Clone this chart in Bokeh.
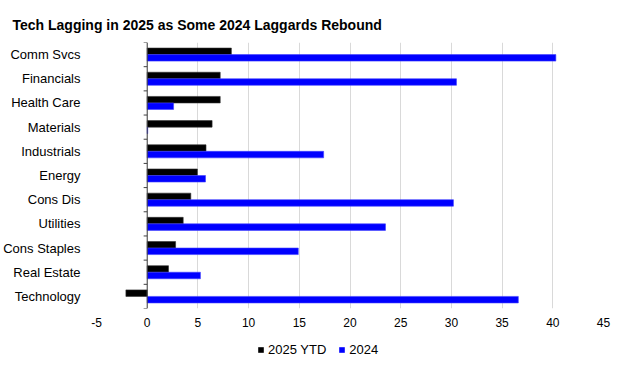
from bokeh.plotting import figure
from bokeh.layouts import column
from bokeh.models import FixedTicker, Span, Legend, LegendItem, ColumnDataSource
from bokeh.embed import file_html
from bokeh.resources import INLINE

categories = ["Comm Svcs", "Financials", "Health Care", "Materials", "Industrials",
              "Energy", "Cons Dis", "Utilities", "Cons Staples", "Real Estate", "Technology"]
ytd_2025 = [8.3, 7.2, 7.2, 6.4, 5.8, 4.95, 4.3, 3.55, 2.8, 2.1, -2.1]
full_2024 = [40.3, 30.5, 2.6, 0.05, 17.4, 5.75, 30.2, 23.5, 14.9, 5.25, 36.6]
x_ticks = [-5, 0, 5, 10, 15, 20, 25, 30, 35, 40, 45]
series_names = ["2025 YTD", "2024"]
series_colors = ["#000000", "#0000FF"]

FONT = "Liberation Sans"
n = len(categories)
ypos = [n - 1 - i for i in range(n)]
bar_h = 0.27
off = 0.135

src = ColumnDataSource(dict(
    cat=categories,
    y1=[y + off for y in ypos],
    y2=[y - off for y in ypos],
    v1=ytd_2025,
    v2=full_2024,
))

p = figure(frame_width=507, frame_height=266, output_backend="svg", toolbar_location=None,
           x_range=(-5, 45), y_range=(-0.5, n - 0.5),
           min_border_left=91, min_border_right=14, min_border_top=42, min_border_bottom=27)
p.outline_line_color = None
p.background_fill_color = "white"
p.border_fill_color = "white"

p.title.text = "Tech Lagging in 2025 as Some 2024 Laggards Rebound"
p.title.text_font = FONT
p.title.text_font_size = "14px"
p.title.text_font_style = "bold"
p.title.text_color = "#000000"
p.title.align = "left"
p.title.offset = -84
p.title.standoff = 20

r1 = p.hbar(y="y1", right="v1", left=0, height=bar_h, source=src,
            fill_color=series_colors[0], line_color="#303030", line_width=0.6)
r2 = p.hbar(y="y2", right="v2", left=0, height=bar_h, source=src,
            fill_color=series_colors[1], line_color="#4040FF", line_width=0.6)

p.add_layout(Span(location=0, dimension="height", line_color="#404040", line_width=1))
bounds = [y + 0.5 for y in ypos] + [-0.5]
p.segment(x0=[-0.35] * len(bounds), x1=[0] * len(bounds), y0=bounds, y1=bounds,
          line_color="#404040", line_width=1)

p.xaxis.ticker = FixedTicker(ticks=x_ticks)
p.xaxis.major_label_overrides = {t: str(t) for t in x_ticks}
p.xaxis.axis_line_color = None
p.xaxis.major_tick_line_color = None
p.xaxis.minor_tick_line_color = None
p.xaxis.major_label_text_font = FONT
p.xaxis.major_label_text_font_size = "12px"
p.xaxis.major_label_text_color = "#000000"
p.xaxis.major_label_standoff = 3

p.yaxis.ticker = FixedTicker(ticks=ypos)
p.yaxis.major_label_overrides = {y: c for y, c in zip(ypos, categories)}
p.yaxis.axis_line_color = None
p.yaxis.major_tick_line_color = None
p.yaxis.minor_tick_line_color = None
p.yaxis.major_label_text_font = FONT
p.yaxis.major_label_text_font_size = "13px"
p.yaxis.major_label_text_color = "#000000"
p.yaxis.major_label_standoff = 10

p.xgrid.ticker = FixedTicker(ticks=x_ticks)
p.xgrid.grid_line_color = "#d9d9d9"
p.ygrid.grid_line_color = None

# separate strip holding the legend (dummy zero-size bars give the legend its swatches)
lf = figure(frame_width=507, frame_height=30, output_backend="svg", toolbar_location=None,
            x_range=(0, 1), y_range=(0, 1), min_border_left=91, min_border_right=14,
            min_border_top=0, min_border_bottom=0)
lf.axis.visible = False
lf.grid.grid_line_color = None
lf.outline_line_color = None
d1 = lf.hbar(y=[0.5], left=[0], right=[0], height=0, color=series_colors[0], line_width=0)
d2 = lf.hbar(y=[0.5], left=[0], right=[0], height=0, color=series_colors[1], line_width=0)
legend = Legend(items=[LegendItem(label=series_names[0], renderers=[d1]),
                       LegendItem(label=series_names[1], renderers=[d2])],
                orientation="horizontal", location=(161, 8),
                label_text_font=FONT, label_text_font_size="13px",
                label_text_color="#000000",
                glyph_width=7, glyph_height=7, spacing=12, padding=0, margin=0,
                label_standoff=4, border_line_color=None, background_fill_alpha=0)
lf.add_layout(legend)

layout = column(p, lf, spacing=0)
open("out.html", "w").write(file_html(layout, INLINE))
